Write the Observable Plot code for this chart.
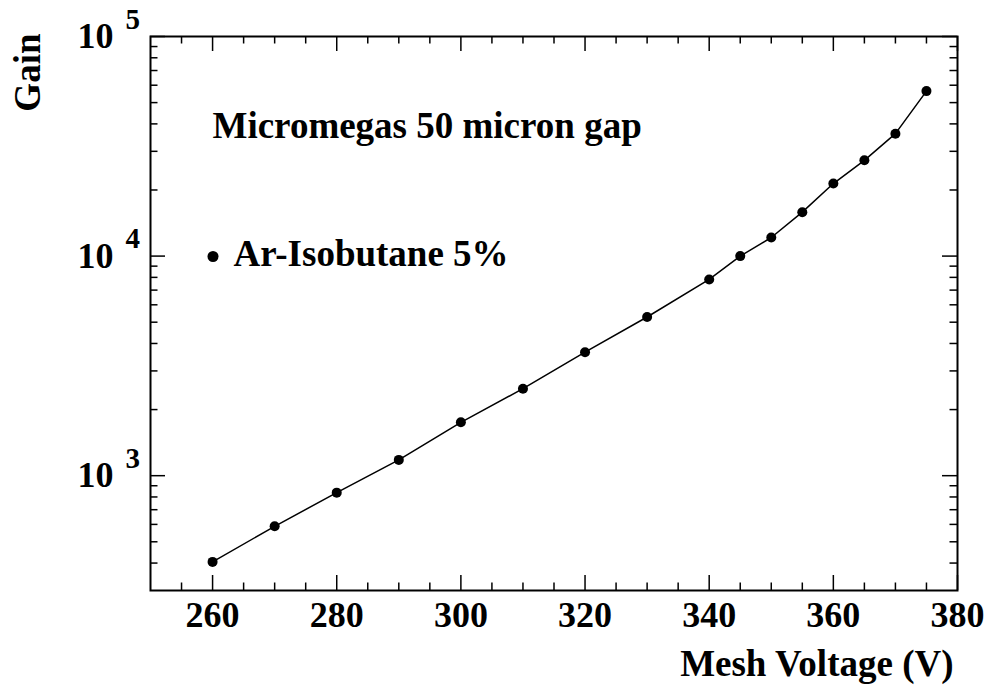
<!DOCTYPE html>
<html><head><meta charset="utf-8">
<script src="https://cdn.jsdelivr.net/npm/d3@7"></script>
<script src="https://cdn.jsdelivr.net/npm/@observablehq/plot@0.6"></script>
<style>html,body{margin:0;padding:0;background:#fff}</style>
</head><body><div id="chart"></div>
<script>
// data: gain vs mesh voltage (Ar-Isobutane 5%)
const voltage = [260, 270, 280, 290, 300, 310, 320, 330, 340, 345, 350, 355, 360, 365, 370, 375];
const gain    = [405, 588, 837, 1180, 1750, 2490, 3650, 5280, 7830, 10000, 12150, 15850, 21400, 27300, 36100, 56400];

// ticks
const xMajor = [260, 280, 300, 320, 340, 360, 380];
const xMinor = [255, 265, 270, 275, 285, 290, 295, 305, 310, 315, 325, 330, 335, 345, 350, 355, 365, 370, 375];
const yMajor = [1000, 10000, 100000];
const yExponent = ["3", "4", "5"];
const yMinor = [400, 500, 600, 700, 800, 900,
  2000, 3000, 4000, 5000, 6000, 7000, 8000, 9000,
  20000, 30000, 40000, 50000, 60000, 70000, 80000, 90000];

// texts
const xTitle = "Mesh Voltage (V)";
const yTitle = "Gain";
const plotTitle = "Micromegas 50 micron gap";
const seriesName = "Ar-Isobutane 5%";

const W = 991, H = 687, ML = 150, MR = 34, MT = 36, MB = 97;
const FW = W - ML - MR, FH = H - MT - MB;
const font = "Liberation Serif";
const majorLen = 15, minorLen = 7.5;
const T = {fontFamily: font, fontWeight: "bold", fill: "#000"};

const table = voltage.map((v, i) => ({voltage: v, gain: gain[i]}));
const yLab = yMajor.map((v, i) => ({v, e: yExponent[i]}));

const chart = Plot.plot({
  width: W, height: H,
  marginLeft: ML, marginRight: MR, marginTop: MT, marginBottom: MB,
  style: {fontFamily: font, fontWeight: "bold", background: "#fff", color: "#000"},
  x: {domain: [250, 380], axis: null},
  y: {type: "log", domain: [300, 100000], axis: null},
  marks: [
    // ticks (inward, all four sides)
    Plot.tickX(xMajor, {x: d => d, insetTop: FH - majorLen, strokeWidth: 1.5}),
    Plot.tickX(xMinor, {x: d => d, insetTop: FH - minorLen, strokeWidth: 1.5}),
    Plot.tickX(xMajor, {x: d => d, insetBottom: FH - majorLen, strokeWidth: 1.5}),
    Plot.tickX(xMinor, {x: d => d, insetBottom: FH - minorLen, strokeWidth: 1.5}),
    Plot.tickY(yMajor, {y: d => d, insetRight: FW - majorLen, strokeWidth: 1.5}),
    Plot.tickY(yMinor, {y: d => d, insetRight: FW - minorLen, strokeWidth: 1.5}),
    Plot.tickY(yMajor, {y: d => d, insetLeft: FW - majorLen, strokeWidth: 1.5}),
    Plot.tickY(yMinor, {y: d => d, insetLeft: FW - minorLen, strokeWidth: 1.5}),
    Plot.frame({strokeWidth: 2}),
    // x tick labels
    Plot.text(xMajor, {...T, x: d => d, frameAnchor: "bottom", text: d => String(d), dy: 25, lineAnchor: "middle", fontSize: 36}),
    // y tick labels: 10 with exponent
    Plot.text(yLab, {...T, y: "v", frameAnchor: "left", text: () => "10", textAnchor: "end", dx: -37, lineAnchor: "middle", fontSize: 36}),
    Plot.text(yLab, {...T, y: "v", frameAnchor: "left", text: "e", textAnchor: "start", dx: -25, dy: -17, lineAnchor: "middle", fontSize: 29}),
    // data
    Plot.line(table, {x: "voltage", y: "gain", stroke: "#000", strokeWidth: 1.5}),
    Plot.dot(table, {x: "voltage", y: "gain", r: 5, fill: "#000", stroke: "none"}),
    // titles
    Plot.text([xTitle], {...T, frameAnchor: "bottom-right", text: d => d, textAnchor: "end", dx: -4, dy: 73.5, lineAnchor: "middle", fontSize: 37}),
    Plot.text([yTitle], {...T, frameAnchor: "top-left", text: d => d, textAnchor: "end", rotate: -90, dx: -122, dy: -3, lineAnchor: "middle", fontSize: 37}),
    Plot.text([plotTitle], {...T, frameAnchor: "top-left", text: d => d, textAnchor: "start", dx: 62, dy: 89.5, lineAnchor: "middle", fontSize: 37}),
    // legend
    Plot.dot([seriesName], {frameAnchor: "top-left", dx: 62.5, dy: 220, r: 5.5, fill: "#000", stroke: "none"}),
    Plot.text([seriesName], {...T, frameAnchor: "top-left", text: d => d, textAnchor: "start", dx: 83, dy: 218, lineAnchor: "middle", fontSize: 37})
  ]
});
document.getElementById("chart").appendChild(chart);
</script>
</body></html>
